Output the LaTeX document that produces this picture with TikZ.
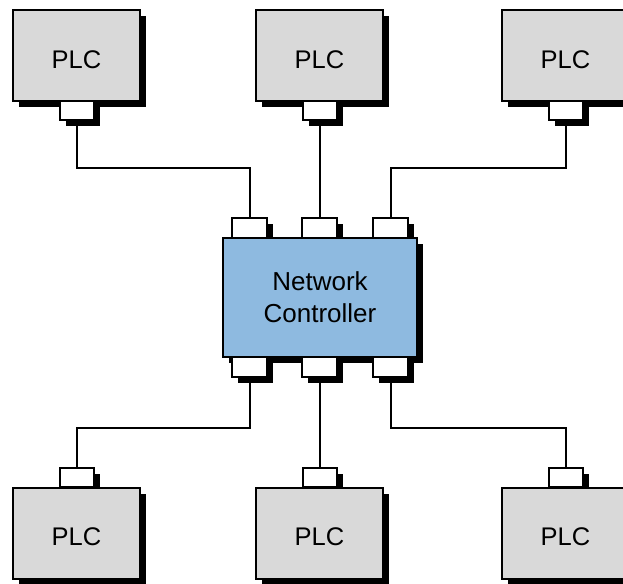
\documentclass[tikz,border=0pt]{standalone}
\usepackage{fontspec}
\setmainfont{Liberation Sans}
\usetikzlibrary{shadows}
\definecolor{plcgray}{HTML}{D9D9D9}
\definecolor{ctrlblue}{HTML}{8EBAE0}
\tikzset{
  shd/.style={drop shadow={shadow xshift=6pt,shadow yshift=-6pt,fill=black,opacity=1}},
  plcbox/.style={draw=black,line width=2pt,fill=plcgray,shd,minimum width=127pt,minimum height=91pt,inner sep=0pt,text depth=0pt,font=\fontsize{25.5}{30}\selectfont},
  plctop/.style={plcbox,text height=26.2pt},
  plcbot/.style={plcbox,text height=24.2pt},
  ctrlbox/.style={draw=black,line width=2pt,fill=ctrlblue,shd,minimum width=194pt,minimum height=119pt,inner sep=0pt,align=center,font=\fontsize{26}{32}\selectfont},
  port/.style={draw=black,line width=2pt,fill=white,shd,minimum width=34pt,minimum height=19pt,inner sep=0pt},
  cport/.style={port,minimum width=35pt,minimum height=20pt},
  wire/.style={draw=black,line width=2pt}
}
\begin{document}
\begin{tikzpicture}[x=1pt,y=-1pt]
\useasboundingbox (0,0) rectangle (623,583);
% top PLCs with ports below
\node[plctop] (plc1) at (76.5,55.5) {PLC};
\node[port] (p1) at (76.5,110.5) {};
\node[plctop] (plc2) at (319.5,55.5) {PLC};
\node[port] (p2) at (319.5,110.5) {};
\node[plctop] (plc3) at (565.5,55.5) {PLC};
\node[port] (p3) at (565.5,110.5) {};
% controller ports on top (drawn before controller)
\node[cport] (c1) at (249.5,228) {};
\node[cport] (c2) at (319.5,228) {};
\node[cport] (c3) at (390.5,228) {};
\node[ctrlbox] (ctrl) at (320,297.5) {Network\\Controller};
% controller ports at bottom
\node[cport] (c4) at (249.5,367) {};
\node[cport] (c5) at (319.5,367) {};
\node[cport] (c6) at (390.5,367) {};
% bottom PLCs with ports above (ports drawn first)
\node[port] (q1) at (76.5,477) {};
\node[plcbot] (plc4) at (76.5,533) {PLC};
\node[port] (q2) at (319.5,477) {};
\node[plcbot] (plc5) at (319.5,533) {PLC};
\node[port] (q3) at (565.5,477) {};
\node[plcbot] (plc6) at (565.5,533) {PLC};
% wires
\draw[wire] (p1.south) -- ++(0,47) -| (c1.north);
\draw[wire] (p2.south) -- (c2.north);
\draw[wire] (p3.south) -- ++(0,47) -| (c3.north);
\draw[wire] (c4.south) -- ++(0,50) -| (q1.north);
\draw[wire] (c5.south) -- (q2.north);
\draw[wire] (c6.south) -- ++(0,50) -| (q3.north);
\end{tikzpicture}
\end{document}
